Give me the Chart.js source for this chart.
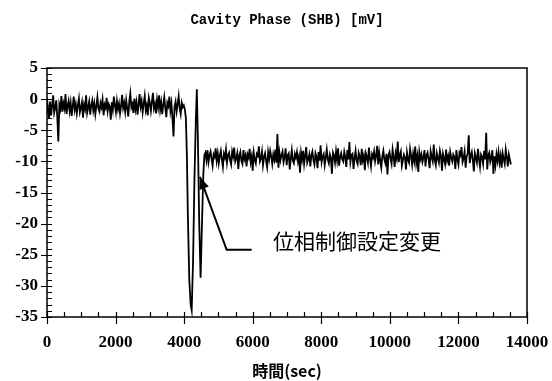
<!DOCTYPE html>
<html>
<head>
    <title>Cavity Phase (SHB)</title>
    <script src="https://cdn.jsdelivr.net/npm/chart.js@4.4.0/dist/chart.umd.min.js"></script>
    <style>
        body { margin: 0; background-color: #fff; }
        #chartBox { width: 552px; height: 381px; }
    </style>
</head>
<body>
    <div id="chartBox"><canvas id="phaseChart" width="552" height="381"></canvas></div>
<script>
// sampling of the logged trace (sec)
const STEP = 30;

// 0 .. 4020 s, before the phase control change
const BEFORE_START = 0;
const beforeValues = [
    0.2, -1.8, -3.1, -0.4, -2.6, -1.0, 0.6, -2.2, -1.4, -0.2, -2.9, -6.8, -0.9, -1.6, 0.5,
    -2.0, -0.7, -1.5, 0.8, -2.4, -1.1, -0.3, -1.9, -0.6, -2.7, -1.2, 0.4, -1.7, -0.8, -2.3,
    -1.0, 0.1, -2.1, -1.4, -0.5, -3.0, -0.9, -1.6, 0.6, -2.2, -1.3, -0.4, -2.5, -1.0, -0.2,
    -1.8, -0.7, -2.4, -1.1, 0.3, -1.5, -2.0, -0.6, -1.3, -0.1, -2.6, -0.9, -1.4, 0.2, -1.9,
    -0.8, -1.2, -3.3, -0.5, -1.7, 0.4, -1.0, -2.1, -0.3, -1.6, -0.7, -2.3, -1.1, 0.7, -1.4,
    -0.6, -2.0, -0.2, -1.5, -2.8, -0.4, 0.9, -1.3, -0.8, -2.2, 0.1, -1.6, -0.5, -2.5, -0.9,
    0.8, -1.2, -0.3, -2.1, -0.7, 0.5, -1.8, -1.0, -2.6, 0.2, -0.6, -1.9, -0.4, 1.0, -1.5,
    -0.8, -2.3, -0.1, -1.3, 0.6, -1.7, -0.5, -2.4, -0.9, 0.3, -1.4, -2.9, -0.6, -1.1, 0.4,
    -1.9, -0.7, -3.1, -6.0, -1.2, -0.4, -2.0, -0.8, 0.5, -1.5, -2.4, -0.6, -1.3, -1.0, -1.6
];

// the swing while the setting was changed
const transientTimes = [4050, 4080, 4110, 4150, 4190, 4220, 4260, 4300, 4340, 4370,
                        4400, 4440, 4480, 4520, 4560, 4590];
const transientValues = [-3.0, -9.0, -19.0, -29.0, -33.0, -33.9, -26.0, -13.0, -3.5, 1.6,
                         -6.0, -20.0, -28.7, -20.0, -12.0, -9.0];

// 4620 .. 13530 s, after the change
const AFTER_START = 4620;
const afterValues = [
    -8.6, -9.8, -8.2, -10.1, -9.0, -8.4, -9.6, -10.7, -8.9, -9.3, -7.9, -9.9, -8.7, -10.3, -9.1,
    -8.3, -9.7, -10.9, -8.8, -9.4, -8.1, -10.2, -9.0, -8.6, -9.8, -10.5, -8.4, -9.2, -7.8, -10.0,
    -9.5, -8.7, -11.2, -9.1, -8.5, -9.9, -10.4, -8.2, -9.6, -9.0, -10.8, -8.9, -9.4, -8.0, -10.1,
    -9.2, -11.5, -8.6, -9.7, -10.3, -8.8, -9.1, -7.6, -10.0, -9.5, -8.4, -10.6, -9.3, -8.7, -9.9,
    -10.9, -8.5, -9.6, -8.3, -9.2, -10.4, -8.9, -9.7, -8.1, -10.2, -5.6, -11.0, -8.6, -9.8, -9.0,
    -8.4, -10.1, -9.3, -7.9, -10.6, -9.0, -8.7, -11.3, -9.5, -8.2, -9.9, -10.3, -8.8, -9.4, -8.5,
    -10.0, -9.2, -11.8, -8.6, -9.7, -8.3, -10.4, -9.1, -7.7, -10.2, -9.6, -8.9, -10.8, -9.0, -8.4,
    -9.8, -10.5, -8.7, -9.3, -11.1, -8.5, -9.9, -7.4, -10.1, -9.2, -8.8, -10.6, -9.4, -8.1, -9.7,
    -10.3, -8.9, -9.5, -12.0, -8.6, -9.1, -10.2, -8.4, -9.8, -7.9, -10.7, -9.3, -8.7, -9.6, -10.0,
    -8.5, -9.4, -10.9, -8.2, -9.7, -6.9, -10.1, -9.0, -8.8, -11.2, -9.5, -8.3, -9.9, -10.4, -8.6,
    -9.2, -10.6, -8.0, -9.8, -9.1, -11.4, -8.7, -9.3, -10.2, -7.8, -9.6, -10.8, -8.9, -9.4, -8.4,
    -10.0, -9.1, -7.5, -10.5, -8.6, -9.9, -11.0, -9.2, -8.3, -9.7, -10.3, -8.8, -12.1, -9.0, -8.5,
    -9.6, -10.4, -8.1, -9.3, -10.9, -8.7, -9.5, -6.8, -10.1, -9.0, -8.4, -10.7, -9.8, -8.9, -9.4,
    -11.3, -8.6, -9.7, -10.2, -8.0, -9.1, -10.5, -8.8, -9.9, -7.6, -10.3, -9.2, -11.7, -8.5, -9.6,
    -8.9, -10.1, -9.4, -8.2, -10.8, -9.0, -8.6, -9.7, -11.1, -8.4, -9.3, -10.0, -7.3, -9.8, -10.6,
    -8.7, -9.5, -10.2, -8.3, -9.1, -11.5, -8.8, -9.6, -10.4, -8.1, -9.9, -9.2, -10.7, -8.5, -9.4,
    -10.0, -8.9, -9.3, -11.2, -8.2, -9.7, -10.5, -8.6, -9.0, -7.7, -10.1, -9.5, -8.4, -11.0, -9.2,
    -8.8, -5.8, -10.3, -9.1, -8.5, -9.8, -11.6, -8.7, -9.4, -10.2, -8.0, -9.6, -10.9, -8.9, -9.3,
    -10.4, -8.3, -9.7, -5.4, -11.3, -9.0, -8.6, -10.1, -9.5, -8.2, -12.0, -9.2, -10.6, -8.8, -9.9,
    -8.5, -10.2, -9.1, -11.0, -8.7, -9.6, -10.4, -8.1, -9.3, -10.8, -8.9, -9.7, -10.5
];

const xMin = 0, xMax = 14000, xMajor = 2000, xMinor = 500;
const yMin = -35, yMax = 5, yMajor = 5, yMinor = 1;

const chartTitle = 'Cavity Phase (SHB) [mV]';
const xTitle = '時間(sec)';

// annotation: arrow tip, elbow, end of leader, text anchor (data units)
const noteText = '位相制御設定変更';
const arrowTip = {x: 4460, y: -12.5};
const arrowElbow = {x: 5240, y: -24.2};
const arrowEnd = {x: 5970, y: -24.2};
const noteAt = {x: 6590, y: -22.8};

const points = [];
beforeValues.forEach((v, i) => points.push({x: BEFORE_START + i * STEP, y: v}));
transientTimes.forEach((t, i) => points.push({x: t, y: transientValues[i]}));
afterValues.forEach((v, i) => points.push({x: AFTER_START + i * STEP, y: v}));

// box frame, inward minor ticks, crossing major ticks, and the arrow note
const frameAndNotes = {
    id: 'frameAndNotes',
    afterDraw(chart) {
        const {ctx, chartArea: a, scales: {x, y}} = chart;
        ctx.save();
        ctx.strokeStyle = '#000';
        ctx.lineWidth = 1.5;
        ctx.strokeRect(a.left, a.top, a.right - a.left, a.bottom - a.top);

        ctx.lineWidth = 1.2;
        ctx.beginPath();
        for (let v = xMin; v <= xMax; v += xMinor) {
            const px = Math.round(x.getPixelForValue(v)) + 0.5;
            const major = v % xMajor === 0;
            ctx.moveTo(px, a.bottom - 5);
            ctx.lineTo(px, a.bottom + (major ? 7 : 0));
        }
        for (let v = yMin; v <= yMax; v += yMinor) {
            const py = Math.round(y.getPixelForValue(v)) + 0.5;
            const major = v % yMajor === 0;
            ctx.moveTo(a.left - (major ? 6 : 0), py);
            ctx.lineTo(a.left + 5, py);
        }
        ctx.stroke();

        // leader line with arrow head
        const tx = x.getPixelForValue(arrowTip.x), ty = y.getPixelForValue(arrowTip.y);
        const ex = x.getPixelForValue(arrowElbow.x), ey = y.getPixelForValue(arrowElbow.y);
        const fx = x.getPixelForValue(arrowEnd.x), fy = y.getPixelForValue(arrowEnd.y);
        ctx.lineWidth = 2;
        ctx.beginPath();
        ctx.moveTo(fx, fy);
        ctx.lineTo(ex, ey);
        ctx.lineTo(tx, ty);
        ctx.stroke();
        const ang = Math.atan2(ey - ty, ex - tx);
        const len = 12, half = 5;
        const bx = tx + Math.cos(ang) * len, by = ty + Math.sin(ang) * len;
        ctx.beginPath();
        ctx.moveTo(tx, ty);
        ctx.lineTo(bx - Math.sin(ang) * half, by + Math.cos(ang) * half);
        ctx.lineTo(bx + Math.sin(ang) * half, by - Math.cos(ang) * half);
        ctx.closePath();
        ctx.fillStyle = '#000';
        ctx.fill();

        ctx.font = '21px "Noto Sans CJK JP"';
        ctx.textBaseline = 'middle';
        ctx.textAlign = 'left';
        ctx.fillText(noteText, x.getPixelForValue(noteAt.x), y.getPixelForValue(noteAt.y));
        ctx.restore();
    }
};

const tickFont = {family: '"Liberation Serif", serif', size: 17, weight: 'bold'};

new Chart(document.getElementById('phaseChart').getContext('2d'), {
    type: 'line',
    data: {
        datasets: [{
            data: points,
            borderColor: '#000',
            borderWidth: 1.8,
            pointRadius: 0,
            tension: 0,
            fill: false
        }]
    },
    options: {
        responsive: false,
        animation: false,
        parsing: false,
        layout: { padding: { left: 0, right: 25, top: 0, bottom: 0 } },
        plugins: {
            legend: { display: false },
            tooltip: { enabled: false },
            title: {
                display: true,
                text: chartTitle,
                fullSize: false,
                color: '#000',
                font: { family: '"Liberation Mono", monospace', size: 14, weight: 'bold', lineHeight: 1.2 },
                padding: { top: 12, bottom: 39.2 }
            }
        },
        scales: {
            x: {
                type: 'linear',
                min: xMin,
                max: xMax,
                afterFit: s => { s.height = 64; s.paddingLeft = 0; s.paddingRight = 0; },
                grid: { display: false, drawTicks: false },
                border: { display: false },
                ticks: {
                    stepSize: xMajor,
                    autoSkip: false,
                    maxRotation: 0,
                    padding: 15,
                    color: '#000',
                    font: tickFont,
                    callback: v => String(v)
                },
                title: {
                    display: true,
                    text: xTitle,
                    color: '#000',
                    font: { family: '"Noto Sans CJK JP"', size: 16, weight: 'bold', lineHeight: 1.2 },
                    padding: { top: 0, bottom: 0 }
                }
            },
            y: {
                min: yMin,
                max: yMax,
                afterFit: s => { s.width = 47; },
                grid: { display: false, drawTicks: false },
                border: { display: false },
                ticks: {
                    stepSize: yMajor,
                    padding: 9,
                    color: '#000',
                    font: tickFont
                }
            }
        }
    },
    plugins: [frameAndNotes]
});
</script>
</body>
</html>
